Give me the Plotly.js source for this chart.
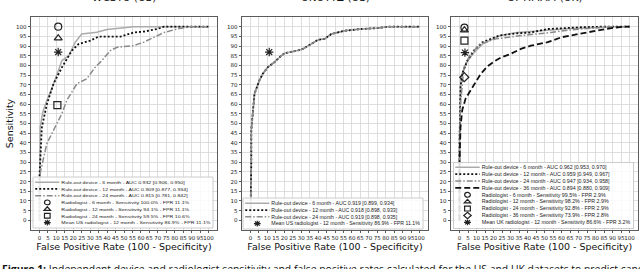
<!DOCTYPE html>
<html>
<head>
<meta charset="utf-8">
<script src="https://cdn.plot.ly/plotly-3.0.1.min.js"></script>
<style>
  html, body { margin: 0; padding: 0; background: #fff; }
  #chart { width: 640px; height: 269px; }
  g.legend *, g.legend2 *, g.legend3 * { vector-effect: non-scaling-stroke; }
</style>
</head>
<body>
<div id="chart"></div>
<script>
// ---------- data ----------
var panelTitles = ["WCSTU (US)", "UNUTTZ (US)", "OPTIMAM (UK)"];
var ticks = [0,5,10,15,20,25,30,35,40,45,50,55,60,65,70,75,80,85,90,95,100];

// Panel 1 (US site 1)
var p1Fpr6  = [0,0,0.4,2,4.4,7.3,10.3,13.3,17.2,21.2,25,33.9,39.9,55.7,100];
var p1Sens6 = [0,22,48,56,62,68,75.7,82.5,85,92,96.2,97.1,98.5,100,100];
var p1Fpr12  = [0,0,1.4,4.4,8.3,13.3,19.2,23.1,30,35,48,55.7,62,69.6,73.6,100];
var p1Sens12 = [0,22,48,60,70.5,79,87.7,91,92.8,94.9,94.9,97,97.5,98.8,100,100];
var p1Fpr24  = [0,0,0.4,4.4,6.3,9.3,13.3,16.2,22.2,28,33,36,42,45.9,55.7,61.7,69.6,73.6,81.4,89.3,100];
var p1Sens24 = [0,20,24.3,39.7,43,48.3,55.2,62,70.6,73.1,79.1,81.7,87.7,89.4,90.2,92,95.4,97,98.8,100,100];
var p1RadFpr  = [11.1, 11.1, 10.6];
var p1RadSens = [100.0, 94.1, 59.5];
var p1MeanFpr = 11.1, p1MeanSens = 86.9;
var p1AUC = ["AUC 0.932 [0.906, 0.950]", "AUC 0.909 [0.877, 0.934]", "AUC 0.815 [0.781, 0.842]"];

// Panel 2 (US site 2)
var p2Fpr  = [0,0.3,0.5,0.5,1.4,2.4,5.3,7.3,10.3,14.2,17.2,20.2,28,31,36,39.9,43.9,47.8,55.7,65.6,75.5,81.4,100];
var p2Sens = [0,10,30,46.6,56.9,65.4,72.3,75.7,79.1,81.7,84.2,86.3,87.7,88.5,91.1,93.2,93.7,96.2,97.9,98.8,99.3,100,100];
var p2AUC = ["AUC 0.919 [0.899, 0.934]", "AUC 0.918 [0.898, 0.933]", "AUC 0.919 [0.898, 0.935]"];
var p2MeanFpr = 11.1, p2MeanSens = 86.9;

// Panel 3 (UK)
var p3Fpr6  = [0,0,0.6,1.6,4.6,8.5,13.5,18.3,24,34,44,55,65,80,90,100];
var p3Sens6 = [0,42,70,76,82,86.5,91,93,95.5,97,97.6,98.4,99,99.5,100,100];
var p3Fpr12  = [0,0,0.6,1.6,4.6,8.5,13.5,18.3,23.3,34.1,42,51.9,59.8,71.7,83.4,100];
var p3Sens12 = [0,40,68.8,75.7,82.5,87.7,92,93.7,95.4,96.6,97,98.8,99.3,99.7,100,100];
var p3Fpr24  = [0,0,0.6,2.6,6.5,12.4,21.3,36.1,53.8,65.7,79.5,87.4,100];
var p3Sens24 = [0,40,60,79,86,91.1,93.7,95.4,97,98.4,99.3,100,100];
var p3Fpr36  = [0,0,0.6,1.6,3.6,6.5,9.5,12.4,16.4,20.3,24.3,30.2,36.1,42,51.9,59.8,69.7,79.5,89.4,97.3,100];
var p3Sens36 = [0,30,48.3,56.9,62.9,67.1,71.4,75.5,79.5,82,84,86,88.5,90.2,92,94.5,96.2,97.9,99.3,100,100];
var p3AUC = ["AUC 0.962 [0.953, 0.970]", "AUC 0.959 [0.949, 0.967]", "AUC 0.947 [0.934, 0.958]", "AUC 0.894 [0.880, 0.909]"];
var p3RadFpr  = [2.9, 2.9, 2.9, 2.8];
var p3RadSens = [99.5, 98.2, 92.8, 73.9];
var p3MeanFpr = 3.2, p3MeanSens = 86.6;

var months = ["6 month", "12 month", "24 month", "36 month"];

// ---------- styles ----------
var lineStyles = [
  {color: "#ababab", width: 1.5, dash: "solid"},
  {color: "#111111", width: 1.8, dash: "2px,2px"},
  {color: "#8a8a8a", width: 1.5, dash: "6px,2px,1.5px,2px"},
  {color: "#111111", width: 1.8, dash: "6px,3px"}
];
var radSymbols = ["circle-open", "triangle-up-open", "square-open", "diamond-open"];

function curve(x, y, i, xa, lg, name) {
  return {x: x, y: y, type: "scatter", mode: "lines", xaxis: xa, yaxis: xa.replace("x","y"),
          legend: lg, name: name, line: lineStyles[i], hoverinfo: "skip"};
}
function rad(x, y, sym, xa, lg, name) {
  return {x: [x], y: [y], type: "scatter", mode: "markers", xaxis: xa, yaxis: xa.replace("x","y"),
          legend: lg, name: name,
          marker: {symbol: sym, size: 7, color: "#222", line: {color: "#222", width: 1.2}}};
}
function pct(v) { return v.toFixed(1) + "%"; }

var data = [];
// Panel 1
data.push(curve(p1Fpr6, p1Sens6, 0, "x", "legend", "Rule-out device - " + months[0] + " - " + p1AUC[0]));
data.push(curve(p1Fpr12, p1Sens12, 1, "x", "legend", "Rule-out device - " + months[1] + " - " + p1AUC[1]));
data.push(curve(p1Fpr24, p1Sens24, 2, "x", "legend", "Rule-out device - " + months[2] + " - " + p1AUC[2]));
for (var i = 0; i < 3; i++) {
  data.push(rad(p1RadFpr[i], p1RadSens[i], radSymbols[i], "x", "legend",
    "Radiologist - " + months[i] + " - Sensitivity " + pct(p1RadSens[i]) + " - FPR " + pct(p1RadFpr[i])));
}
data.push(rad(p1MeanFpr, p1MeanSens, "asterisk-open", "x", "legend",
  "Mean US radiologist - 12 month - Sensitivity " + pct(p1MeanSens) + " - FPR " + pct(p1MeanFpr)));
// Panel 2
for (var i = 0; i < 3; i++) {
  data.push(curve(p2Fpr, p2Sens, i, "x2", "legend2", "Rule-out device - " + months[i] + " - " + p2AUC[i]));
}
data.push(rad(p2MeanFpr, p2MeanSens, "asterisk-open", "x2", "legend2",
  "Mean US radiologist - 12 month - Sensitivity " + pct(p2MeanSens) + " - FPR " + pct(p2MeanFpr)));
// Panel 3
var p3X = [p3Fpr6, p3Fpr12, p3Fpr24, p3Fpr36], p3Y = [p3Sens6, p3Sens12, p3Sens24, p3Sens36];
for (var i = 0; i < 4; i++) {
  data.push(curve(p3X[i], p3Y[i], i, "x3", "legend3", "Rule-out device - " + months[i] + " - " + p3AUC[i]));
}
for (var i = 0; i < 4; i++) {
  data.push(rad(p3RadFpr[i], p3RadSens[i], radSymbols[i], "x3", "legend3",
    "Radiologist - " + months[i] + " - Sensitivity " + pct(p3RadSens[i]) + " - FPR " + pct(p3RadFpr[i])));
}
data.push(rad(p3MeanFpr, p3MeanSens, "asterisk-open", "x3", "legend3",
  "Mean UK radiologist - 12 month - Sensitivity " + pct(p3MeanSens) + " - FPR " + pct(p3MeanFpr)));

// ---------- layout ----------
var W = 640, H = 269;
var boxes = [[31, 217], [242, 428], [451, 638]];
var yTop = 17, yBot = 230;
var FONT = "DejaVu Sans, Verdana, sans-serif";

function xax(i) {
  return {domain: [boxes[i][0] / W, boxes[i][1] / W], range: [-5, 105], anchor: ["y","y2","y3"][i],
    tickmode: "array", tickvals: ticks, ticktext: ticks.map(String), tickangle: 0,
    tickfont: {family: FONT, size: 5.5, color: "#222"}, ticks: "outside", ticklen: 2.5, tickwidth: 0.8, tickcolor: "#333",
    showgrid: true, gridcolor: "#d6d6d6", gridwidth: 0.8, zeroline: false,
    showline: true, linecolor: "#333", linewidth: 0.8, mirror: true, automargin: false,
    title: {text: "False Positive Rate (100 - Specificity)", font: {family: FONT, size: 9.5, color: "#111"}, standoff: 3}};
}
function yax(i) {
  var a = {domain: [1 - yBot / H, 1 - yTop / H], range: [-5, 105], anchor: ["x","x2","x3"][i],
    tickmode: "array", tickvals: ticks, ticktext: ticks.map(String),
    tickfont: {family: FONT, size: 5.5, color: "#222"}, ticks: "outside", ticklen: 2.5, tickwidth: 0.8, tickcolor: "#333",
    showgrid: true, gridcolor: "#d6d6d6", gridwidth: 0.8, zeroline: false,
    showline: true, linecolor: "#333", linewidth: 0.8, mirror: true, automargin: false};
  if (i === 0) a.title = {text: "Sensitivity", font: {family: FONT, size: 9.5, color: "#111"}, standoff: 0};
  return a;
}
function leg(x, y) {
  return {x: x / W, y: 1 - y / H, xanchor: "left", yanchor: "top",
    font: {family: "Liberation Sans, Arial, sans-serif", size: 13, color: "#222"},
    bgcolor: "rgba(255,255,255,0.85)", bordercolor: "#cccccc", borderwidth: 1,
    itemwidth: 60, tracegroupgap: 0};
}

var annotations = [];
for (var i = 0; i < 3; i++) {
  annotations.push({text: panelTitles[i], xref: "paper", yref: "paper",
    x: (boxes[i][0] + boxes[i][1]) / 2 / W, y: 1 - 4 / H, xanchor: "center", yanchor: "bottom",
    showarrow: false, borderpad: 0, font: {family: FONT, size: 10.5, color: "#111"}});
}
annotations.push({text: "<b>Figure 1:</b> Independent device and radiologist sensitivity and false positive rates calculated for the US and UK datasets to predict cancer",
  xref: "paper", yref: "paper", x: 1 / W, y: 1 - 261 / H, xanchor: "left", yanchor: "top",
  showarrow: false, borderpad: 0, font: {family: "Open Sans, sans-serif", size: 10.4, color: "#111"}});

var layout = {
  width: W, height: H, margin: {l: 0, r: 0, t: 0, b: 0, autoexpand: false},
  paper_bgcolor: "#fff", plot_bgcolor: "#fff", showlegend: true,
  xaxis: xax(0), xaxis2: xax(1), xaxis3: xax(2),
  yaxis: yax(0), yaxis2: yax(1), yaxis3: yax(2),
  legend: leg(33, 177), legend2: leg(243, 198), legend3: leg(453, 162),
  annotations: annotations
};

var targets = {legend: [33, 177, 213, 228], legend2: [243, 198, 423, 229], legend3: [453, 162, 633, 228]};

var gd = document.getElementById("chart");
Plotly.newPlot(gd, data, layout, {staticPlot: true, displayModeBar: false}).then(function () {
  Object.keys(targets).forEach(function (id) {
    var g = gd.querySelector("g." + id);
    if (!g) return;
    var bg = g.querySelector("rect.bg");
    var bb = (bg || g).getBBox();
    var t = targets[id];
    var sx = (t[2] - t[0]) / bb.width, sy = (t[3] - t[1]) / bb.height;
    g.setAttribute("transform", "translate(" + (t[0] - bb.x * sx) + "," + (t[1] - bb.y * sy) + ") scale(" + sx + "," + sy + ")");
    // enlarge legend marker samples to match the reference's legend glyph size
    g.querySelectorAll("g.legendpoints path.scatterpts").forEach(function (p) {
      var tr = p.getAttribute("transform") || "";
      p.setAttribute("transform", tr + " scale(2)");
    });
  });
});
</script>
</body>
</html>
